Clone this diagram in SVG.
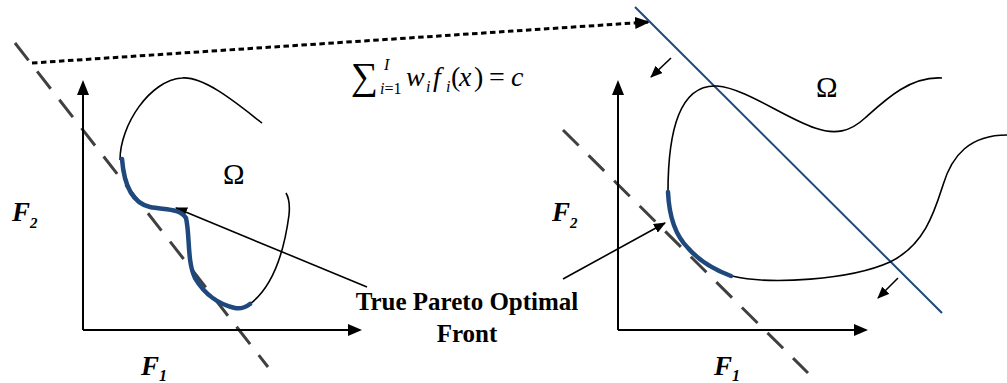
<svg xmlns="http://www.w3.org/2000/svg" width="1007" height="383" viewBox="0 0 1007 383">
<style>
.ax{stroke:#000;stroke-width:2;fill:none}
.dash{stroke:#404040;stroke-width:3;stroke-dasharray:22 14;fill:none}
.curve{stroke:#000;stroke-width:1.6;fill:none}
.front{stroke:#1F497D;stroke-width:4.5;fill:none;stroke-linecap:round}
.arr{stroke:#000;stroke-width:1.6;fill:none}
.lbl{font-family:"Liberation Serif","Times New Roman",serif;font-weight:bold;font-style:italic;fill:#000}
.om{font-family:"Liberation Serif","DejaVu Serif",serif;fill:#000}
.eq{font-family:"Liberation Serif","DejaVu Serif",serif;font-style:italic;fill:#000}
.tx{font-family:"Liberation Serif","Times New Roman",serif;font-weight:bold;fill:#000;font-size:25px;text-anchor:middle}
</style>
<defs>
<marker id="ah" viewBox="0 0 12 10" refX="11" refY="5" markerWidth="12" markerHeight="10" markerUnits="userSpaceOnUse" orient="auto">
<path d="M0,0 L12,5 L0,10 Z" fill="#000"/>
</marker>
<marker id="ahBig" viewBox="0 0 15 12" refX="14" refY="6" markerWidth="15" markerHeight="12" markerUnits="userSpaceOnUse" orient="auto">
<path d="M0,0 L15,6 L0,12 Z" fill="#000"/>
</marker>
</defs>

<g id="connectors">
<path d="M32,63 L649,22" stroke="#000" stroke-width="3" stroke-dasharray="5.5 3.5" fill="none" marker-end="url(#ahBig)"/>
<path class="arr" d="M367,287 L176,208" marker-end="url(#ah)"/>
<path class="arr" d="M563,279 L665,223" marker-end="url(#ah)"/>
<path class="arr" d="M671,58 L651,77" marker-end="url(#ah)"/>
<path class="arr" d="M898,278 L878,298" marker-end="url(#ah)"/>
</g>

<g id="left-panel">
<path class="dash" d="M15,43 L268,367"/>
<path class="ax" d="M83,330 L83,92"/>
<path d="M77,95 L83,80 L89,95 Z" fill="#000"/>
<path class="ax" d="M83,330 L350,330"/>
<path d="M348,324 L362,330 L348,336 Z" fill="#000"/>
<path class="curve" d="M262,123 C240,106 205,76 182,78 C150,80 120,125 120,160"/>
<path class="curve" d="M250,304 C275,285 285,245 289,215 C290,205 289,198 286,193"/>
<path class="front" d="M122,159 C124,185 132,203 150,207 C165,210 180,208 186,218 C190,235 187,262 195,278 C205,295 220,305 235,308 C240,309 246,307 250,304"/>
<text class="om" x="223" y="184" font-size="29">Ω</text>
<text class="lbl" x="12" y="221" font-size="27">F<tspan font-size="15" dy="7">2</tspan></text>
<text class="lbl" x="141" y="375" font-size="27">F<tspan font-size="16" dy="6">1</tspan></text>
</g>

<g id="right-panel">
<path class="dash" d="M563,130 L808,373"/>
<path class="ax" d="M618,330 L618,92"/>
<path d="M612,95 L618,80 L624,95 Z" fill="#000"/>
<path class="ax" d="M618,330 L856,330"/>
<path d="M854,324 L868,330 L854,336 Z" fill="#000"/>
<path d="M635,7 L942,313" stroke="#1F497D" stroke-width="2" fill="none"/>
<path class="curve" d="M942,78 C910,76 885,100 865,118 C850,132 835,135 815,128 C785,118 745,88 717,86 C680,84 668,130 668,192"/>
<path class="curve" d="M732,276 C770,285 850,280 890,262 C925,245 935,210 943,185 C952,155 970,135 1007,135"/>
<path class="front" d="M668,192 C669,215 675,235 688,248 C700,262 715,270 731,276"/>
<text class="om" x="816" y="97" font-size="29">Ω</text>
<text class="lbl" x="552" y="221" font-size="27">F<tspan font-size="15" dy="7">2</tspan></text>
<text class="lbl" x="714" y="375" font-size="27">F<tspan font-size="16" dy="6">1</tspan></text>
</g>

<g id="equation">
<text class="om" x="351" y="89" font-size="38">∑</text>
<text class="om" x="380" y="94" font-size="16"><tspan font-style="italic">i</tspan>=1</text>
<text class="eq" x="384" y="70" font-size="16">I</text>
<text class="eq" x="406" y="86" font-size="28">w</text>
<text class="eq" x="426" y="92" font-size="16">i</text>
<text class="eq" x="433" y="86" font-size="28">f</text>
<text class="eq" x="446" y="92" font-size="16">i</text>
<text class="om" x="451" y="86" font-size="28">(</text>
<text class="eq" x="459" y="86" font-size="28">x</text>
<text class="om" x="474" y="86" font-size="28">)</text>
<text class="om" x="489" y="86" font-size="28">=</text>
<text class="eq" x="511" y="86" font-size="28">c</text>
</g>

<g id="label">
<text class="tx" x="467" y="310">True Pareto Optimal</text>
<text class="tx" x="467" y="342">Front</text>
</g>
</svg>
